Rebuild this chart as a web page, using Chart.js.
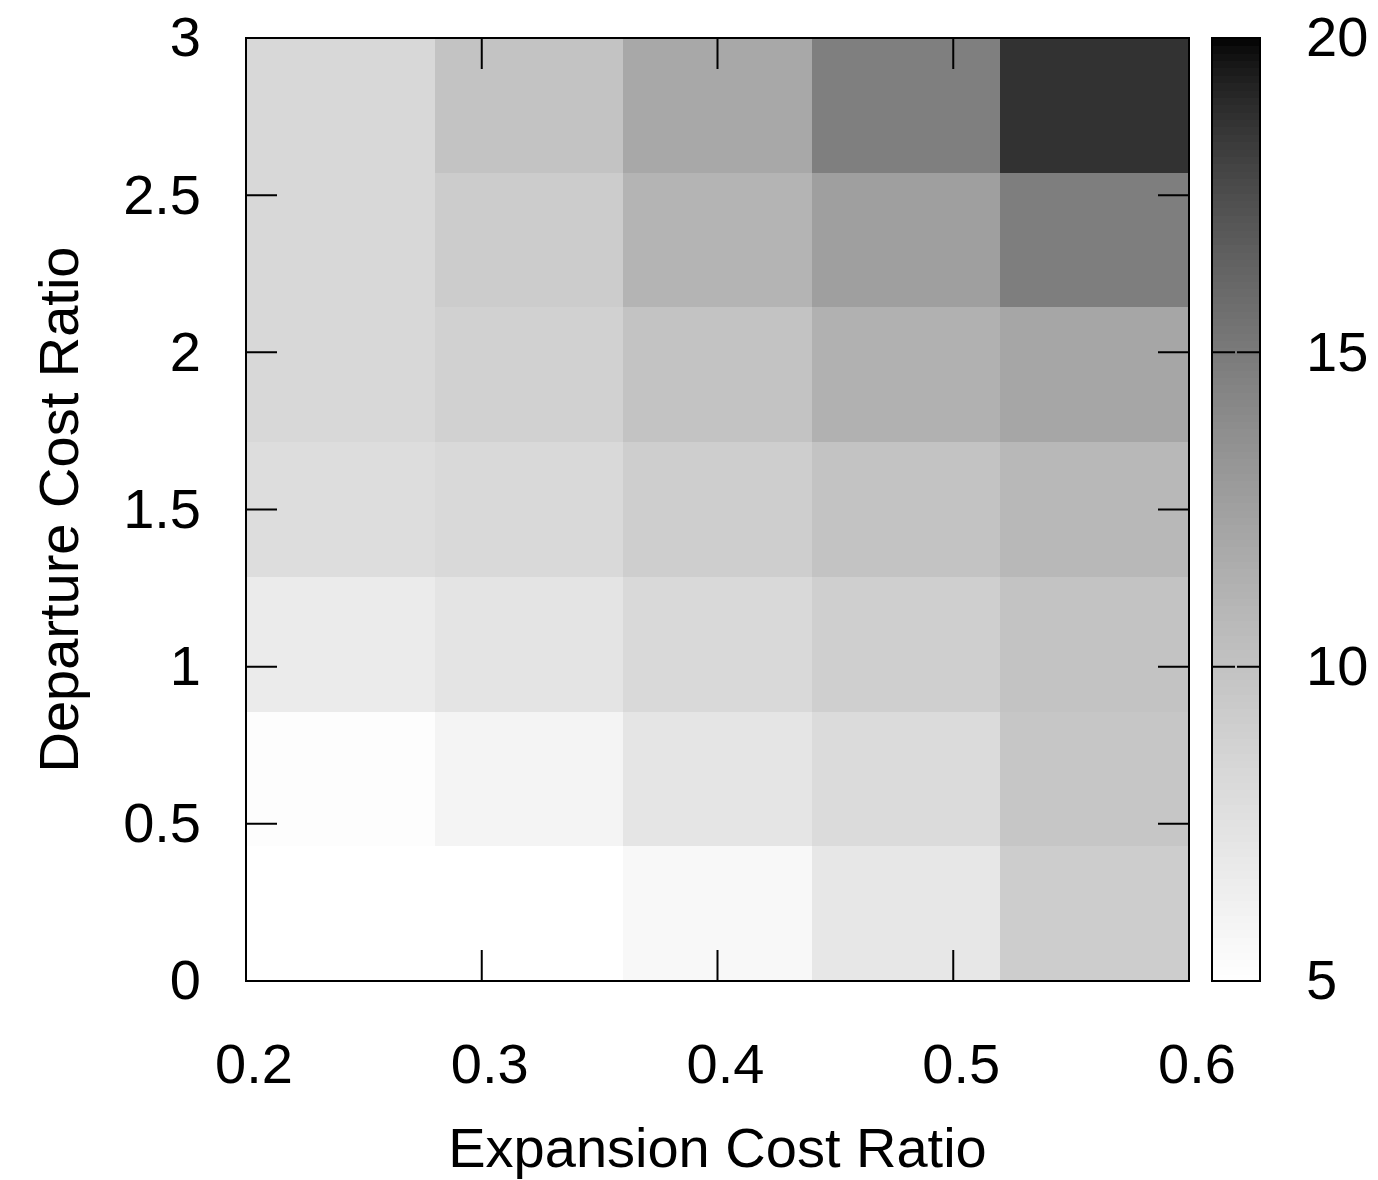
<!DOCTYPE html>
<html><head><meta charset="utf-8">
<script src="https://cdn.jsdelivr.net/npm/chart.js@4.4.1/dist/chart.umd.min.js"></script>
<style>html,body{margin:0;padding:0;background:#fff;}canvas{display:block;}</style>
</head><body>
<canvas id="c" width="1378" height="1180"></canvas>
<script>
// ---- data ----
const expansionRatios = [0.2, 0.3, 0.4, 0.5, 0.6];          // x tick labels
const departureRatios = [0, 0.5, 1, 1.5, 2, 2.5, 3];        // y tick labels
const colorbarTicks   = [5, 10, 15, 20];
// cost values per departure-cost row (bottom to top), one value per expansion column
const costRow1 = [5.0, 5.0, 5.6, 7.1, 9.2];
const costRow2 = [5.2, 6.0, 7.2, 8.1, 9.7];
const costRow3 = [6.7, 7.3, 8.2, 9.0, 10.0];
const costRow4 = [7.9, 8.2, 9.1, 10.0, 10.8];
const costRow5 = [8.3, 8.9, 10.0, 11.3, 12.1];
const costRow6 = [8.3, 9.3, 11.1, 12.6, 14.8];
const costRow7 = [8.3, 10.0, 12.0, 14.7, 18.7];
const costRows = [costRow1, costRow2, costRow3, costRow4, costRow5, costRow6, costRow7];

const X_MIN = 0.2, X_MAX = 0.6, Y_MIN = 0, Y_MAX = 3, CB_MIN = 5, CB_MAX = 20;
const nCols = costRow1.length, nRows = costRows.length;
const cellW = (X_MAX - X_MIN) / nCols, cellH = (Y_MAX - Y_MIN) / nRows;

function grayFor(v) {
  let f = (v - CB_MIN) / (CB_MAX - CB_MIN);
  f = Math.max(0, Math.min(1, f));
  const g = Math.round(255 * Math.pow(1 - f, 2 / 3));
  return `rgb(${g},${g},${g})`;
}

const datasets = costRows.map((row, r) => ({
  label: 'departure row ' + (r + 1),
  data: row.map((v, c) => ({ x: X_MIN + (c + 0.5) * cellW, y: Y_MIN + (r + 0.5) * cellH, v })),
  pointRadius: 0, pointHoverRadius: 0, showLine: false
}));

const FONT = { family: "'Liberation Sans', Arial, Helvetica, sans-serif", size: 56 };
const TICK_LEN = 31;

const heatPlugin = {
  id: 'heat',
  beforeDatasetsDraw(chart) {
    const { ctx, scales: { x, y } } = chart;
    ctx.save();
    chart.data.datasets.forEach(ds => ds.data.forEach(p => {
      const x0 = Math.round(x.getPixelForValue(p.x - cellW / 2));
      const x1 = Math.round(x.getPixelForValue(p.x + cellW / 2));
      const y0 = Math.round(y.getPixelForValue(p.y + cellH / 2));
      const y1 = Math.round(y.getPixelForValue(p.y - cellH / 2));
      ctx.fillStyle = grayFor(p.v);
      ctx.fillRect(x0, y0, x1 - x0, y1 - y0);
    }));
    ctx.restore();
  },
  afterDraw(chart) {
    const { ctx, chartArea: a, scales: { x, y, cb } } = chart;
    ctx.save();
    ctx.strokeStyle = '#000';
    ctx.lineWidth = 2;
    ctx.beginPath();
    x.ticks.forEach(t => {
      const px = x.getPixelForValue(t.value);
      ctx.moveTo(px, a.bottom); ctx.lineTo(px, a.bottom - TICK_LEN);
      ctx.moveTo(px, a.top); ctx.lineTo(px, a.top + TICK_LEN);
    });
    y.ticks.forEach(t => {
      const py = y.getPixelForValue(t.value);
      ctx.moveTo(a.left, py); ctx.lineTo(a.left + TICK_LEN, py);
      ctx.moveTo(a.right, py); ctx.lineTo(a.right - TICK_LEN, py);
    });
    ctx.stroke();
    ctx.strokeRect(a.left, a.top, a.right - a.left, a.bottom - a.top);

    // colour box
    const bx0 = a.right + 23, bx1 = a.right + 71;
    const N = 128;
    for (let i = 0; i < N; i++) {
      const v0 = CB_MIN + (CB_MAX - CB_MIN) * i / N;
      const v1 = CB_MIN + (CB_MAX - CB_MIN) * (i + 1) / N;
      const py0 = Math.round(cb.getPixelForValue(v1));
      const py1 = Math.round(cb.getPixelForValue(v0));
      ctx.fillStyle = grayFor((v0 + v1) / 2);
      ctx.fillRect(bx0, py0, bx1 - bx0, py1 - py0 + 1);
    }
    ctx.strokeRect(bx0, cb.top, bx1 - bx0, cb.bottom - cb.top);
    ctx.beginPath();
    cb.ticks.forEach(t => {
      const py = cb.getPixelForValue(t.value);
      ctx.moveTo(bx0, py); ctx.lineTo(bx0 + 23, py);
      ctx.moveTo(bx1, py); ctx.lineTo(bx1 - 23, py);
    });
    ctx.stroke();
    ctx.restore();
  }
};

// invisible tick marks used only as spacing between axis and labels
const spacerGrid = len => ({ display: true, drawOnChartArea: false, drawTicks: true, tickLength: len, color: 'rgba(0,0,0,0)' });

new Chart(document.getElementById('c'), {
  type: 'scatter',
  data: { datasets },
  plugins: [heatPlugin],
  options: {
    responsive: false,
    animation: false,
    events: [],
    layout: { padding: { top: 38, left: 0, right: 0, bottom: 0 } },
    plugins: { legend: { display: false }, tooltip: { enabled: false } },
    scales: {
      x: {
        type: 'linear', min: X_MIN, max: X_MAX,
        afterBuildTicks: s => { s.ticks = expansionRatios.map(v => ({ value: v })); },
        afterFit: s => { s.height = 199; },
        ticks: { font: FONT, color: '#000', padding: 0, labelOffset: 8, maxRotation: 0, autoSkip: false,
                 callback: v => Number(v).toFixed(1) },
        grid: spacerGrid(53),
        border: { display: false },
        title: { display: true, text: 'Expansion Cost Ratio', font: FONT, color: '#000', padding: { top: 0, bottom: -5 } }
      },
      y: {
        type: 'linear', min: Y_MIN, max: Y_MAX,
        afterBuildTicks: s => { s.ticks = departureRatios.map(v => ({ value: v })); },
        afterFit: s => { s.width = 246; },
        ticks: { font: FONT, color: '#000', padding: 0, labelOffset: 3, autoSkip: false,
                 callback: v => String(v) },
        grid: spacerGrid(45),
        border: { display: false },
        title: { display: true, text: 'Departure Cost Ratio', font: FONT, color: '#000', padding: { top: 29, bottom: 0 } }
      },
      cb: {
        type: 'linear', position: 'right', min: CB_MIN, max: CB_MAX,
        afterBuildTicks: s => { s.ticks = colorbarTicks.map(v => ({ value: v })); },
        afterFit: s => { s.width = 189; },
        ticks: { font: FONT, color: '#000', padding: 0, labelOffset: 3, autoSkip: false,
                 callback: v => String(v) },
        grid: spacerGrid(117),
        border: { display: false }
      }
    }
  }
});
</script>
</body></html>
